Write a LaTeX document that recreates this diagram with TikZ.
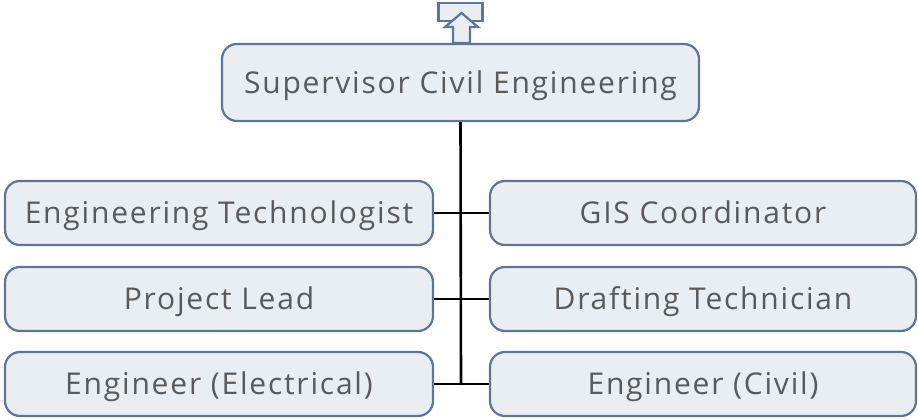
\documentclass[tikz,border=0pt]{standalone}
\usepackage{fontspec}
\setmainfont{Open Sans}[LetterSpace=6]
\begin{document}
\definecolor{boxfill}{HTML}{E9EEF2}
\definecolor{boxline}{HTML}{5F7499}
\definecolor{txt}{HTML}{5A5A5A}
\begin{tikzpicture}[x=1pt,y=-1pt,
  orgbox/.style={draw=boxline, fill=boxfill, line width=2.2pt, rounded corners=15pt,
    inner sep=0pt, text=txt, font=\fontsize{30}{34}\selectfont, text height=28pt, text depth=7pt},
  link/.style={draw=black, line width=2.6pt}]
\useasboundingbox (0,0) rectangle (918,420);
% top arrow
\node[draw=boxline, fill=boxfill, line width=2.2pt, minimum width=44pt, minimum height=18pt, inner sep=0pt] (tab) at (460.5,12) {};
\path[draw=boxline, fill=boxfill, line width=2.2pt, line join=miter]
  (453,43) -- (453,27) -- (445,27) -- (461.5,13) -- (478,27) -- (470,27) -- (470,43) -- cycle;
% boxes
\node[orgbox, minimum width=477pt, minimum height=77pt] (sup) at (460.5,82.5) {Supervisor Civil Engineering};
\node[orgbox, minimum width=428pt, minimum height=64pt] (l1) at (219,213) {Engineering Technologist};
\node[orgbox, minimum width=428pt, minimum height=64pt] (l2) at (219,299) {Project Lead};
\node[orgbox, minimum width=428pt, minimum height=64pt] (l3) at (219,384) {Engineer (Electrical)};
\node[orgbox, minimum width=426pt, minimum height=64pt] (r1) at (703,213) {GIS Coordinator};
\node[orgbox, minimum width=426pt, minimum height=64pt] (r2) at (703,299) {Drafting Technician};
\node[orgbox, minimum width=426pt, minimum height=64pt] (r3) at (703,384) {Engineer (Civil)};
% connectors
\coordinate (bot) at (461,385);
\draw[link] (sup.south) -- (bot);
\draw[link] (l1.east) -- (r1.west);
\draw[link] (l2.east) -- (r2.west);
\draw[link] (l3.east) -- (r3.west);
\end{tikzpicture}
\end{document}
